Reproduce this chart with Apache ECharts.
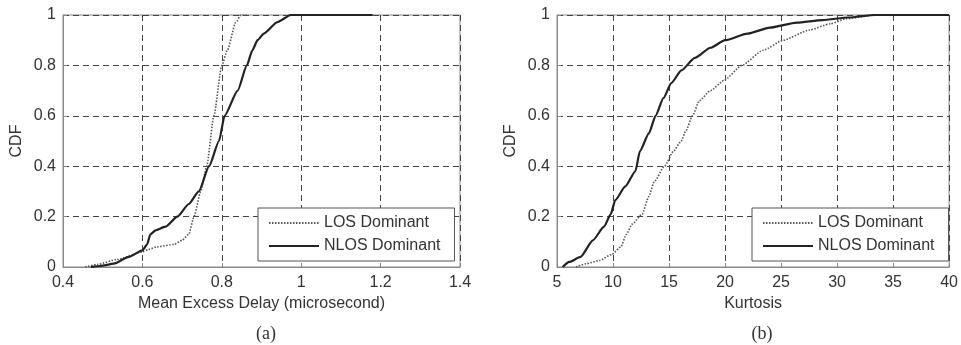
<!DOCTYPE html>
<html><head><meta charset="utf-8">
<script src="https://cdn.jsdelivr.net/npm/echarts@6/dist/echarts.min.js"></script>
<style>html,body{margin:0;padding:0;background:#fff}#c{width:961px;height:345px}</style>
</head><body><div id="c"></div>
<script>
// (a) Mean excess delay CDF
const losA_x = [0.456,0.486,0.536,0.60,0.616,0.637,0.68,0.70,0.717,0.73,0.747,0.762,0.78,0.80,0.814,0.835,0.848,0.866];
const losA_y = [0,0.01,0.03,0.06,0.07,0.08,0.09,0.106,0.13,0.2,0.3,0.4,0.6,0.8,0.86,0.97,1.0,1.0];
const nlosA_x = [0.47,0.494,0.528,0.566,0.60,0.612,0.62,0.633,0.658,0.688,0.717,0.742,0.768,0.793,0.807,0.84,0.863,0.877,0.89,0.906,0.94,0.974,1.18];
const nlosA_y = [0,0.004,0.013,0.04,0.066,0.09,0.13,0.145,0.16,0.2,0.25,0.3,0.4,0.5,0.6,0.7,0.8,0.86,0.9,0.926,0.972,1.0,1.0];
// (b) Kurtosis CDF
const losB_x = [6.7,7.6,8.8,9.9,10.7,11.2,11.7,12.6,13.2,13.7,14.6,15.4,16.1,16.5,17.1,17.7,18.7,19.9,21.5,23.4,25.2,27.5,29.4,30.8,33.1];
const losB_y = [0,0.013,0.026,0.05,0.08,0.13,0.17,0.21,0.28,0.34,0.4,0.46,0.5,0.54,0.6,0.66,0.70,0.74,0.8,0.86,0.9,0.94,0.965,0.985,1.0];
const nlosB_x = [5.5,6.1,7.1,8.2,9.2,9.8,10.2,11.1,12.0,12.4,13.2,13.8,14.5,15.2,16.1,17.3,18.7,20.0,22.0,24.0,26.4,28.7,31.0,33.4,40];
const nlosB_y = [0,0.02,0.04,0.106,0.16,0.21,0.265,0.32,0.38,0.46,0.53,0.6,0.67,0.73,0.78,0.83,0.87,0.9,0.926,0.95,0.97,0.98,0.99,1.0,1.0];
const seriesNames = ['LOS Dominant','NLOS Dominant'];
const xNames = ['Mean Excess Delay (microsecond)','Kurtosis'];
const panelLabels = ['(a)','(b)'];

const zip = (xs, ys) => xs.map((x, i) => [x, ys[i]]);
const font = 'Liberation Sans, Arial, sans-serif';
const txt = '#333';
const splitLine = {show:true, lineStyle:{color:'#444', type:[6,4], width:1}};
const axisLine = {show:true, lineStyle:{color:'#888'}};
const axisTick = {show:true, inside:true, length:4, lineStyle:{color:'#888'}};
function xAxis(gi, min, max, interval){
  return {type:'value', gridIndex:gi, min, max, interval,
    name:xNames[gi], nameLocation:'middle', nameGap:28,
    nameTextStyle:{fontFamily:font, fontSize:16, color:txt},
    axisLine, axisTick,
    axisLabel:{fontFamily:font, fontSize:16, color:txt, margin:8, formatter:v=>String(+v.toFixed(2))},
    splitLine};
}
function yAxis(gi){
  return {type:'value', gridIndex:gi, min:0, max:1, interval:0.2,
    name:'CDF', nameLocation:'middle', nameGap:38,
    nameTextStyle:{fontFamily:font, fontSize:16, color:txt},
    axisLine, axisTick,
    axisLabel:{fontFamily:font, fontSize:16, color:txt, margin:7, formatter:v=>String(+v.toFixed(1))},
    splitLine};
}
const losStyle = {color:'#555', width:1.6, type:[1.5,1.5]};
const nlosStyle = {color:'#222', width:2.2, type:'solid'};
function mkSeries(name, data, gi, style){
  return {name, type:'line', xAxisIndex:gi, yAxisIndex:gi, data, symbol:'none', showSymbol:false,
    smooth:0.2, smoothMonotone:'x', lineStyle:style, itemStyle:{color:style.color}, z:3};
}
const suffix = gi => '\u200B'.repeat(gi);
function legend(gi, left, top){
  return {show:true, left, top, orient:'vertical',
    backgroundColor:'#fff', borderColor:'#555', borderWidth:1, padding:[7,14,7,10], itemGap:7,
    itemWidth:50, itemHeight:14, itemStyle:{opacity:0},
    textStyle:{fontFamily:font, fontSize:16, color:txt},
    data:[{name:seriesNames[0]+suffix(gi)},{name:seriesNames[1]+suffix(gi)}]};
}
const chart = echarts.init(document.getElementById('c'), null, {renderer:'canvas'});
chart.setOption({
  animation:false, backgroundColor:'#fff',
  title:[
    {text:panelLabels[0], left:261, top:320, textAlign:'center', textStyle:{fontFamily:'Liberation Serif, serif', fontSize:18, fontWeight:'normal', color:txt}},
    {text:panelLabels[1], left:757, top:320, textAlign:'center', textStyle:{fontFamily:'Liberation Serif, serif', fontSize:18, fontWeight:'normal', color:txt}}
  ],
  grid:[
    {left:63, top:15, width:397, height:252, show:true, borderColor:'#888', borderWidth:1, backgroundColor:'#fff'},
    {left:557, top:15, width:398, height:252, show:true, borderColor:'#888', borderWidth:1, backgroundColor:'#fff'}
  ],
  xAxis:[xAxis(0,0.4,1.4,0.2), xAxis(1,5,40,5)],
  yAxis:[yAxis(0), yAxis(1)],
  legend:[legend(0,258,208), legend(1,752,208)],
  series:[
    mkSeries(seriesNames[0]+suffix(0), zip(losA_x, losA_y), 0, losStyle),
    mkSeries(seriesNames[1]+suffix(0), zip(nlosA_x, nlosA_y), 0, nlosStyle),
    mkSeries(seriesNames[0]+suffix(1), zip(losB_x, losB_y), 1, losStyle),
    mkSeries(seriesNames[1]+suffix(1), zip(nlosB_x, nlosB_y), 1, nlosStyle)
  ]
});
</script></body></html>
